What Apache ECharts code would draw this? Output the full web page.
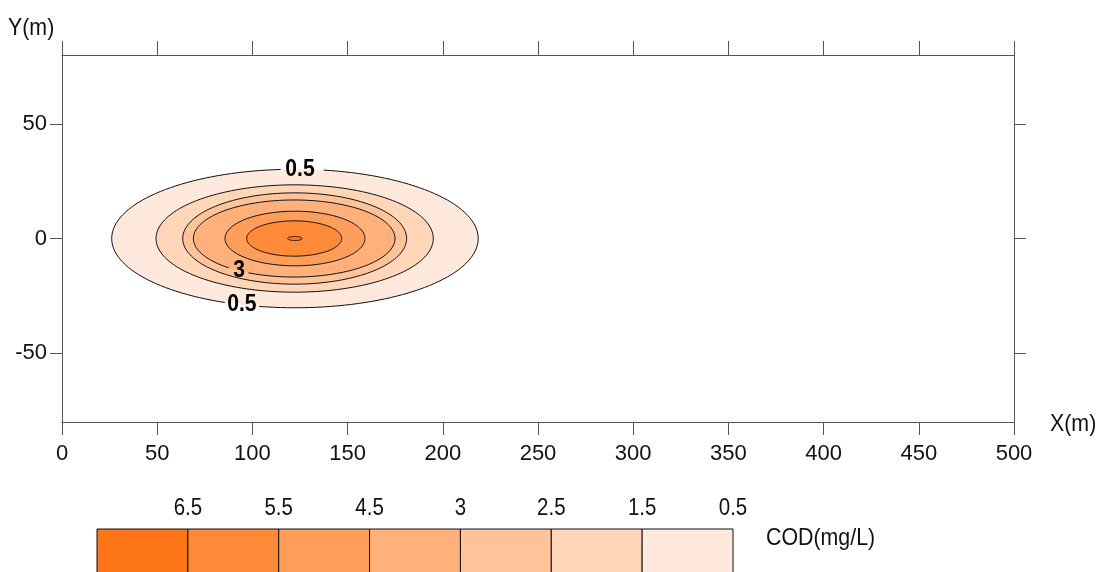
<!DOCTYPE html>
<html>
<head>
<meta charset="utf-8">
<script src="https://cdn.jsdelivr.net/npm/echarts@6/dist/echarts.min.js"></script>
<style>
  html, body { margin: 0; padding: 0; background: #fff; }
  #chart { width: 1103px; height: 572px; }
</style>
</head>
<body>
<div id="chart"></div>
<script>
// COD concentration contours (mg/L), outermost first
const levels = [0.5, 1.5, 2.5, 3, 4.5, 5.5, 6.5];
// Extent of each contour along X (m)
const xLeft  = [26.1, 49.4, 63.4, 69.0, 85.6, 97.0, 118.5];
const xRight = [218.6, 195.0, 181.0, 174.9, 159.1, 146.9, 126.2];
// Half-width of each contour across Y (m)
const yHalf  = [30.2, 23.4, 19.9, 16.8, 11.9, 7.7, 0.9];
// Fill colour inside each contour
const fills = ['#ffe9dc', '#ffd6b8', '#ffc39a', '#ffb07b', '#ff9d5a', '#ff8a38', '#ff7519'];
// Contour labels: contour index, X position (m), side of the plume (+1 upper, -1 lower)
const contourLabels = [
  { level: 0, x: 125, side: 1 },
  { level: 3, x: 93, side: -1 },
  { level: 0, x: 94.5, side: -1 }
];
// Axis ranges and ticks
const xRange = [0, 500];
const xStep = 50;
const yRange = [-80, 80];
const yTicks = [-50, 0, 50];
// Colour key, left to right
const keyLabels = ['6.5', '5.5', '4.5', '3', '2.5', '1.5', '0.5'];
const keyColors = fills.slice().reverse();

const FONT = '"Liberation Sans", Arial, sans-serif';
const N = 160;
const NARROW = 0.89;   // horizontal squeeze applied to free-standing text

function contourGeom(i) {
  const cx = (xLeft[i] + xRight[i]) / 2;
  const a = (xRight[i] - xLeft[i]) / 2;
  return { cx: cx, a: a, b: yHalf[i] };
}

function contourY(i, x, side) {
  const g = contourGeom(i);
  const r = (x - g.cx) / g.a;
  return side * g.b * Math.sqrt(Math.max(0, 1 - r * r));
}

function labelText(i) { return String(levels[i]); }

function renderContour(params, api) {
  const i = api.value(2);
  const g = contourGeom(i);
  const pts = [];
  for (let k = 0; k <= N; k++) {
    const t = 2 * Math.PI * k / N;
    pts.push(api.coord([g.cx + g.a * Math.cos(t), g.b * Math.sin(t)]));
  }
  // gaps in the outline where a contour label sits
  const gaps = contourLabels.filter(l => l.level === i).map(l => {
    const c = api.coord([l.x, contourY(i, l.x, l.side)]);
    const w = labelText(i).length > 1 ? 17 : 8;
    return { x: c[0], y: c[1], w: w, h: 11 };
  });
  const runs = [];
  let cur = [];
  pts.forEach(p => {
    const hidden = gaps.some(gp => Math.abs(p[0] - gp.x) < gp.w && Math.abs(p[1] - gp.y) < gp.h);
    if (hidden) {
      if (cur.length > 1) runs.push(cur);
      cur = [];
    } else {
      cur.push(p);
    }
  });
  if (cur.length > 1) runs.push(cur);

  const children = [{
    type: 'polygon',
    shape: { points: pts },
    style: { fill: fills[i], stroke: null }
  }];
  runs.forEach(r => children.push({
    type: 'polyline',
    shape: { points: r },
    style: { fill: null, stroke: '#111', lineWidth: 1 }
  }));
  return { type: 'group', children: children };
}

function renderLabel(params, api) {
  const l = contourLabels[api.value(2)];
  const c = api.coord([l.x, contourY(l.level, l.x, l.side)]);
  return {
    type: 'text',
    x: c[0], y: c[1],
    scaleX: 0.88,
    style: {
      text: labelText(l.level),
      font: 'bold 24px ' + FONT,
      fill: '#000',
      align: 'center',
      verticalAlign: 'middle'
    }
  };
}

function freeText(text, x, y, align, size) {
  return {
    type: 'text', x: x, y: y, scaleX: NARROW,
    style: { text: text, font: size + 'px ' + FONT, fill: '#111', align: align, verticalAlign: 'middle' }
  };
}

// colour key boxes and their boundary values
const keyLeft = 97, keyRight = 733, keyTop = 529;
const keyW = (keyRight - keyLeft) / keyColors.length;
const keyGraphics = [];
keyColors.forEach((c, k) => {
  keyGraphics.push({
    type: 'rect',
    shape: { x: keyLeft + k * keyW, y: keyTop, width: keyW, height: 60 },
    style: { fill: c, stroke: '#111', lineWidth: 1 }
  });
  keyGraphics.push(freeText(keyLabels[k], keyLeft + (k + 1) * keyW, 509, 'center', 23));
});
keyGraphics.push(freeText('COD(mg/L)', 766, 538, 'left', 24));
keyGraphics.push(freeText('Y(m)', 8, 28, 'left', 24));
keyGraphics.push(freeText('X(m)', 1050, 424, 'left', 24));

const axisLine = { show: true, onZero: false, lineStyle: { color: '#555', width: 1 } };
const labelStyle = { fontSize: 22, color: '#111', fontFamily: FONT };

const chart = echarts.init(document.getElementById('chart'), null, { renderer: 'canvas' });
chart.setOption({
  animation: false,
  backgroundColor: '#fff',
  grid: { left: 62, right: 89, top: 55, bottom: 150, containLabel: false },
  xAxis: [
    {
      type: 'value', position: 'bottom', min: xRange[0], max: xRange[1], interval: xStep,
      axisLine: axisLine,
      axisTick: { show: true, inside: false, length: 13, lineStyle: { color: '#555' } },
      axisLabel: Object.assign({ margin: 21, showMinLabel: true, showMaxLabel: true }, labelStyle),
      splitLine: { show: false }
    },
    {
      type: 'value', position: 'top', min: xRange[0], max: xRange[1], interval: xStep,
      axisLine: axisLine,
      axisTick: { show: true, inside: false, length: 14, lineStyle: { color: '#555' } },
      axisLabel: { show: false },
      splitLine: { show: false }
    }
  ],
  yAxis: [
    {
      type: 'value', position: 'left', min: yRange[0], max: yRange[1],
      axisLine: axisLine,
      axisTick: { show: true, inside: false, length: 12, customValues: yTicks, lineStyle: { color: '#555' } },
      axisLabel: Object.assign({ margin: 15, customValues: yTicks }, labelStyle),
      splitLine: { show: false }
    },
    {
      type: 'value', position: 'right', min: yRange[0], max: yRange[1],
      axisLine: axisLine,
      axisTick: { show: true, inside: false, length: 12, customValues: yTicks, lineStyle: { color: '#555' } },
      axisLabel: { show: false },
      splitLine: { show: false }
    }
  ],
  series: [
    {
      type: 'custom',
      coordinateSystem: 'cartesian2d',
      xAxisIndex: 0, yAxisIndex: 0,
      renderItem: renderContour,
      data: levels.map((v, i) => [(xLeft[i] + xRight[i]) / 2, 0, i]),
      z: 2,
      silent: true
    },
    {
      type: 'custom',
      coordinateSystem: 'cartesian2d',
      xAxisIndex: 0, yAxisIndex: 0,
      renderItem: renderLabel,
      data: contourLabels.map((l, k) => [l.x, contourY(l.level, l.x, l.side), k]),
      z: 3,
      silent: true
    }
  ],
  graphic: keyGraphics
});
</script>
</body>
</html>
